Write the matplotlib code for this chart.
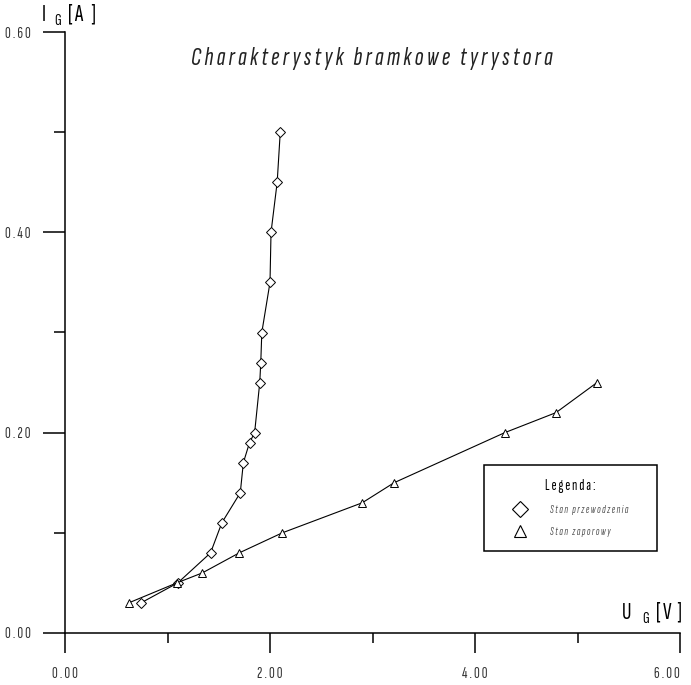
import matplotlib
matplotlib.use("Agg")
import matplotlib.pyplot as plt
from matplotlib.lines import Line2D
from matplotlib.ticker import MultipleLocator, FixedLocator

# Stan przewodzenia (diamonds)
ug_on = [0.74, 1.10, 1.42, 1.53, 1.71, 1.74, 1.80, 1.85, 1.90, 1.91, 1.92, 2.00, 2.01, 2.07, 2.10]
ig_on = [0.03, 0.05, 0.08, 0.11, 0.14, 0.17, 0.19, 0.20, 0.25, 0.27, 0.30, 0.35, 0.40, 0.45, 0.50]

# Stan zaporowy (triangles)
ug_off = [0.62, 1.09, 1.34, 1.70, 2.12, 2.90, 3.21, 4.29, 4.79, 5.19]
ig_off = [0.03, 0.05, 0.06, 0.08, 0.10, 0.13, 0.15, 0.20, 0.22, 0.25]

x_ticks = [0, 2, 4, 6]
y_ticks = [0, 0.2, 0.4, 0.6]


def spaced(s, gap=" "):
    # wide letter spacing like the original plot
    return "   ".join(gap.join(w) for w in s.split(" "))


FONT = ["Sofia Sans Extra Condensed", "DejaVu Sans"]
plt.rcParams["font.family"] = FONT

fig = plt.figure(figsize=(6.91, 6.85), dpi=100)
ax = fig.add_axes([65 / 691, 52 / 685, 615 / 691, 601 / 685])

ax.plot(ug_on, ig_on, color="black", lw=0.8, marker="D", ms=5,
        mfc="white", mec="black", mew=0.7)
ax.plot(ug_off, ig_off, color="black", lw=0.8, marker="^", ms=6,
        mfc="white", mec="black", mew=0.7)

ax.set_xlim(0, 6)
ax.set_ylim(0, 0.6)
for s in ["top", "right"]:
    ax.spines[s].set_visible(False)
for s in ["left", "bottom"]:
    ax.spines[s].set_linewidth(1.1)

ax.xaxis.set_major_locator(FixedLocator(x_ticks))
ax.yaxis.set_major_locator(FixedLocator(y_ticks))
ax.xaxis.set_minor_locator(MultipleLocator(1))
ax.yaxis.set_minor_locator(MultipleLocator(0.1))
ax.set_xticklabels([spaced(f"{v:.2f}") for v in x_ticks])
ax.set_yticklabels([spaced(f"{v:.2f}") for v in y_ticks])
ax.tick_params(axis="x", which="major", direction="out", length=14.5, width=1.1, pad=10, labelsize=11.5)
ax.tick_params(axis="x", which="minor", direction="out", length=7.5, width=1.1)
ax.tick_params(axis="y", which="major", direction="out", length=15.5, width=1.1, pad=9, labelsize=11.5)
ax.tick_params(axis="y", which="minor", direction="out", length=8, width=1.1)
for lab in ax.get_xticklabels() + ax.get_yticklabels():
    lab.set_color("#333333")
# keep the last x label inside the figure
ax.get_xticklabels()[-1].set_horizontalalignment("right")

fig.text(371.5 / 691, 1 - 58 / 685, spaced("Charakterystyk bramkowe tyrystora"), ha="center", va="center",
         fontsize=19, style="italic", color="#222222")
fig.text(41 / 691, 1 - 15 / 685, r"I   $_{\mathregular{G}}$  [ A   ]", ha="left", va="center", fontsize=17)
fig.text(621 / 691, 1 - 613 / 685, r"U    $_{\mathregular{G}}$  [ V  ]", ha="left", va="center", fontsize=17)

handles = [Line2D([], [], ls="none", marker="D", ms=8, mfc="white", mec="black", mew=0.8),
           Line2D([], [], ls="none", marker="^", ms=9, mfc="white", mec="black", mew=0.8)]
labels = [spaced("Stan przewodzenia"), spaced("Stan zaporowy")]
leg = ax.legend(handles, labels, loc="upper left", mode="expand",
                bbox_to_anchor=(484 / 691, 1 - 556 / 685, 173 / 691, 91 / 685),
                bbox_transform=fig.transFigure, title=spaced("Legenda:"),
                frameon=True, fancybox=False, edgecolor="black", framealpha=1,
                prop={"style": "italic", "size": 8}, handlelength=3.8,
                handletextpad=0.8, borderpad=1.3, labelspacing=1.05,
                borderaxespad=0)
leg.get_title().set_fontweight("bold")
leg.get_title().set_fontsize(11)
leg.get_frame().set_linewidth(1.1)
for t in leg.get_texts():
    t.set_color("#555555")

fig.savefig("out.png", dpi=100)
